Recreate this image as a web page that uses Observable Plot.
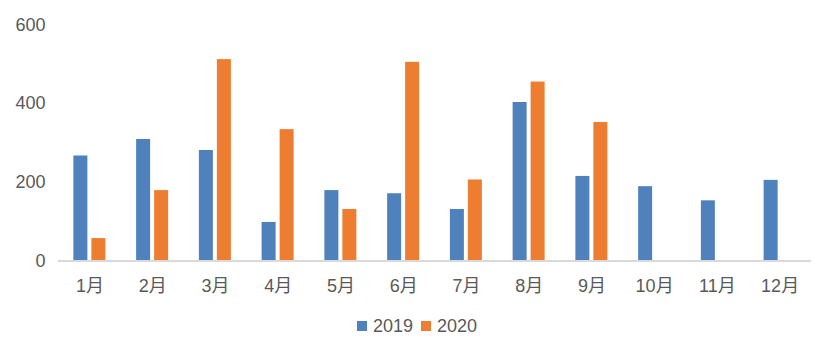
<!DOCTYPE html>
<html>
<head>
<meta charset="utf-8">
<script src="https://cdn.jsdelivr.net/npm/d3@7"></script>
<script src="https://cdn.jsdelivr.net/npm/@observablehq/plot@0.6"></script>
<style>
  body { margin: 0; background: #fff; font-family: "Liberation Sans", "Noto Sans CJK SC", sans-serif; }
  #chart { width: 822px; }
  .legend { width: 822px; height: 36px; display: flex; justify-content: center; align-items: center; font-size: 18px; color: #595959; }
  .legend .inner { margin-left: 12px; display: flex; align-items: center; }
  .legend .sw { width: 10px; height: 10px; display: inline-block; margin-right: 6px; }
  .legend .item { display: flex; align-items: center; margin-right: 8px; }
  .legend .item:last-child { margin-right: 0; }
</style>
</head>
<body>
<div id="chart"></div>
<script>
const months = ["1月","2月","3月","4月","5月","6月","7月","8月","9月","10月","11月","12月"];
const years = ["2019", "2020"];
const values2019 = [267, 309, 281, 98, 179, 171, 131, 403, 215, 189, 153, 205];
const values2020 = [57, 179, 512, 334, 131, 505, 206, 455, 352, null, null, null];
const colors = ["#4F81BD", "#ED7D31"];
const yTicks = [0, 200, 400, 600];

const rows2019 = months.map((m, i) => ({month: m, value: values2019[i]}));
const rows2020 = months.map((m, i) => ({month: m, value: values2020[i]})).filter(d => d.value != null);

const textColor = "#595959";
const font = "\"Liberation Sans\", \"Noto Sans CJK SC\", sans-serif";

const chart = Plot.plot({
  width: 822,
  height: 308,
  marginLeft: 58,
  marginRight: 11,
  marginTop: 24.5,
  marginBottom: 47.5,
  style: {fontFamily: font, fontSize: "18px", color: textColor, background: "#fff"},
  x: {domain: months, paddingInner: 0.777, paddingOuter: 0.3885, round: false, axis: null},
  y: {domain: [0, 600], axis: null},
  marks: [
    Plot.barY(rows2019, {x: "month", y: "value", fill: colors[0], dx: -9}),
    Plot.barY(rows2020, {x: "month", y: "value", fill: colors[1], dx: 9}),
    Plot.ruleY([0], {stroke: "#d9d9d9", strokeWidth: 2}),
    Plot.axisY({ticks: yTicks, tickSize: 0, tickPadding: 13, label: null, fontSize: 18, fill: textColor}),
    Plot.axisX({tickSize: 0, tickPadding: 18, label: null, fontSize: 18, fill: textColor})
  ]
});
document.getElementById("chart").appendChild(chart);

const legend = document.createElement("div");
legend.className = "legend";
const inner = document.createElement("div");
inner.className = "inner";
years.forEach((y, i) => {
  const item = document.createElement("span");
  item.className = "item";
  const sw = document.createElement("span");
  sw.className = "sw";
  sw.style.background = colors[i];
  item.appendChild(sw);
  item.appendChild(document.createTextNode(y));
  inner.appendChild(item);
});
legend.appendChild(inner);
document.body.appendChild(legend);
</script>
</body>
</html>
